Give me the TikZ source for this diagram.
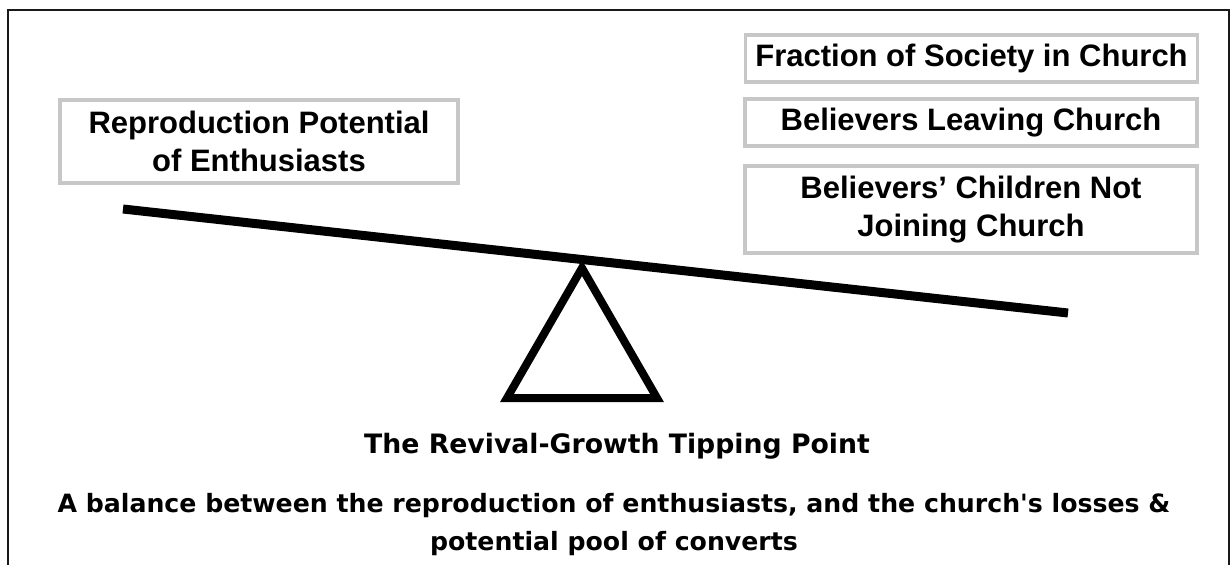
\documentclass[tikz,border=0pt]{standalone}
\usepackage{fontspec}
\setmainfont{Liberation Sans}
\newfontfamily\comicfont{DejaVu Sans}
\usetikzlibrary{positioning}

\begin{document}
\begin{tikzpicture}[
    x=1pt, y=-1pt,
    factor/.style={rectangle, draw=black!22, line width=3.5pt, fill=white, text centered, align=center, inner sep=0pt, minimum width=452pt, font=\fontsize{31}{38}\selectfont\bfseries},
    beam/.style={line width=9pt, line cap=butt},
    fulcrum/.style={line width=8pt, line join=miter},
    caption/.style={font=\comicfont\fontsize{25.2}{38}\selectfont\bfseries, align=center}
]

\useasboundingbox (0,0) rectangle (1231,565);

% Frame (open at the bottom)
\draw[line width=2pt, black!90] (8,565) -- (8,10) -- (1229,10) -- (1229,565);

% Left side of the balance
\node[factor, minimum width=398pt, minimum height=83pt] (repro) at (259,141.5) {Reproduction Potential\\of Enthusiasts};

% Right side of the balance
\node[factor, minimum height=47pt] (fraction) at (971.5,58.5) {Fraction of Society in Church};
\node[factor, minimum height=47pt] (leaving) at (971,122.5) {Believers Leaving Church};
\node[factor, minimum height=87pt] (children) at (971,209.5) {Believers' Children Not\\Joining Church};

% Beam and fulcrum
\coordinate (beamL) at (123,209);
\coordinate (beamR) at (1068,313);
\draw[beam] (beamL) -- (beamR);

\coordinate (apex) at (582,268);
\coordinate (baseL) at (507,398);
\coordinate (baseR) at (657,398);
\draw[fulcrum] (apex) -- (baseL) -- (baseR) -- cycle;

% Captions
\node[caption, anchor=base, font=\comicfont\fontsize{26.7}{38}\selectfont\bfseries] (title) at (617,453) {The Revival-Growth Tipping Point};
\node[caption, anchor=base] (note) at (614,512) {A balance between the reproduction of enthusiasts, and the church's losses \&};
\node[caption, below=0pt of note.base, anchor=base, yshift=-38pt] (pool) {potential pool of converts};

\end{tikzpicture}
\end{document}
